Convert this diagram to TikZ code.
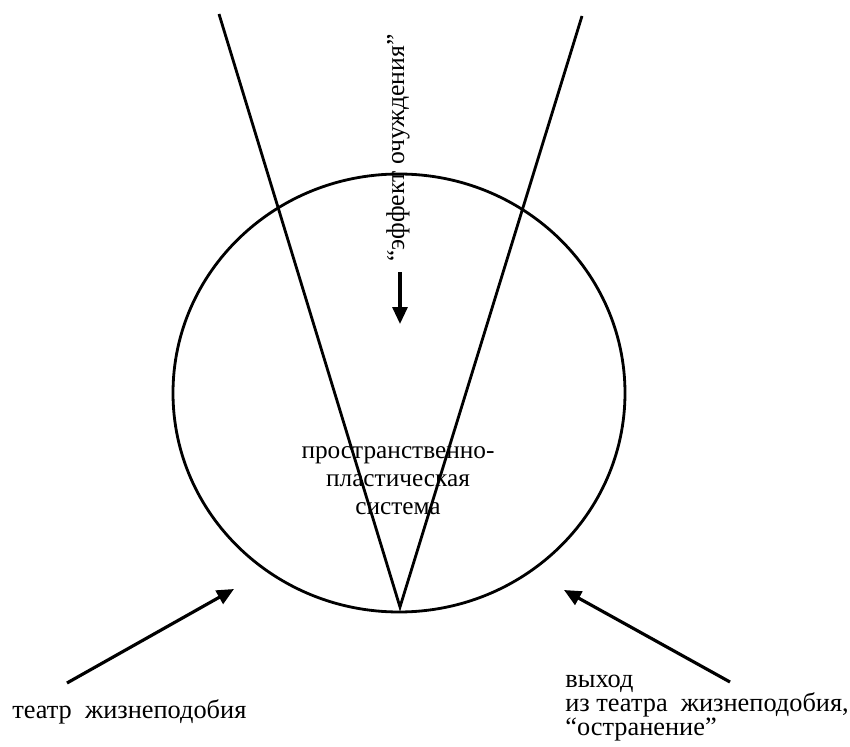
\documentclass[tikz,border=0pt]{standalone}
\usepackage{fontspec}
\setmainfont{Liberation Serif}
\usetikzlibrary{arrows.meta,shapes.geometric}
\begin{document}
\begin{tikzpicture}[x=0.02cm,y=-0.02cm,
  thinline/.style={line width=1.6pt},
  arrowline/.style={line width=1.8pt,-{Triangle[length=17*0.02cm,width=15*0.02cm]}},
  lbl/.style={inner sep=0pt,font=\fontsize{15}{13.7}\selectfont},
  every node/.style={inner sep=0pt}]
\useasboundingbox (0,0) rectangle (850,747);
\fill[white] (0,0) rectangle (850,747);
% circle
\node[draw,thinline,ellipse,minimum width=452*0.02cm,minimum height=438*0.02cm] (circ) at (399,393) {};
% V lines
\coordinate (topL) at (219,14);
\coordinate (topR) at (582,16);
\coordinate (apex) at (400,607);
\draw[thinline] (topL) -- (apex) -- (topR);
% vertical label and arrow
\node[lbl,rotate=90,font=\fontsize{14.6}{16}\selectfont] (eff) at (398,148) {“эффект очуждения”};
\coordinate (dA) at (400,272);
\coordinate (dB) at (400,324);
\draw[arrowline] (dA) -- (dB);
% center text
\node[lbl,align=center,font=\fontsize{14.4}{16}\selectfont] (sys) at (398,481) {пространственно-\\пластическая\\система};
% left arrow
\coordinate (lA) at (67,683);
\coordinate (lB) at (234,589);
\draw[arrowline] (lA) -- (lB);
\node[lbl,anchor=base west] (lt) at (12,718) {театр\ \ жизнеподобия};
% right arrow
\coordinate (rA) at (730,682);
\coordinate (rB) at (564,590);
\draw[arrowline] (rA) -- (rB);
\node[lbl,align=left,anchor=north west] (rt) at (565,675) {выход\\из театра\ \ жизнеподобия,\\“остранение”};
\end{tikzpicture}
\end{document}
